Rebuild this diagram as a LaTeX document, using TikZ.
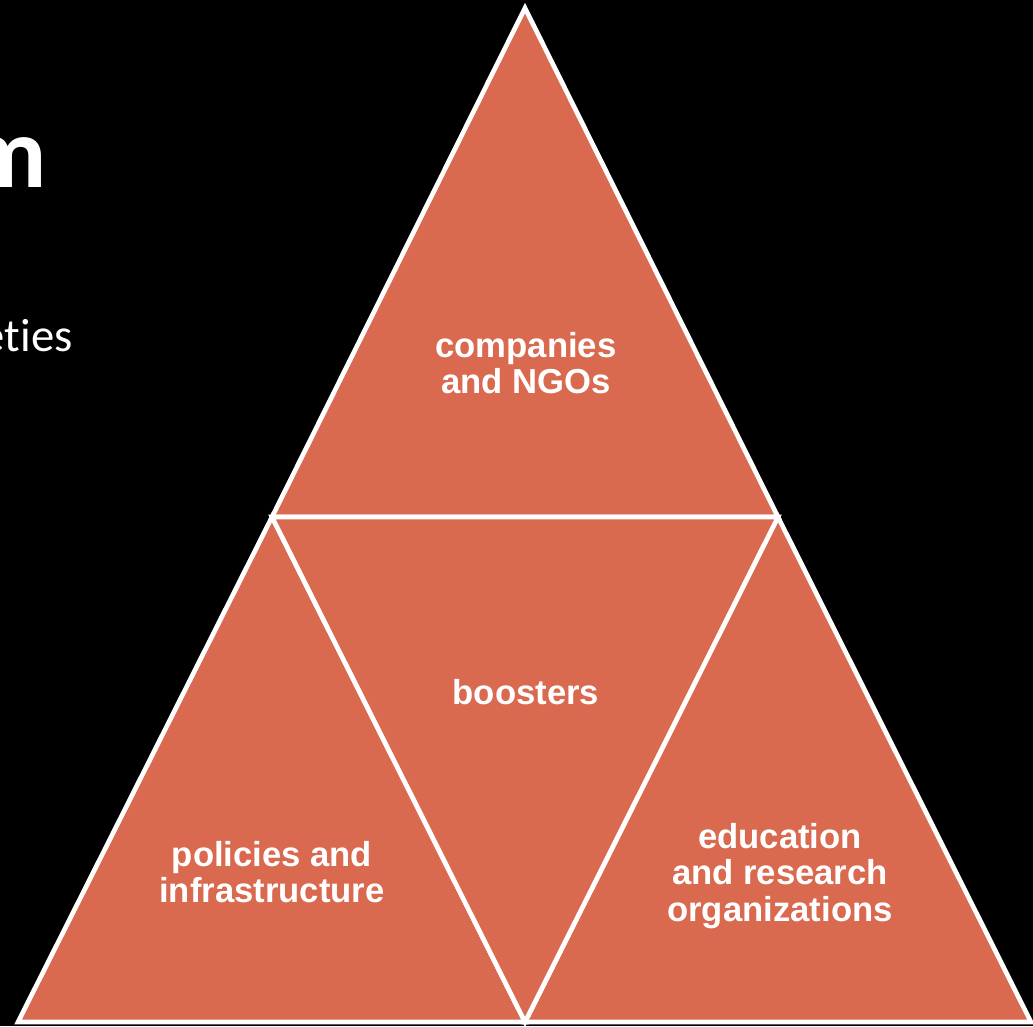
\documentclass[tikz,border=0pt]{standalone}
\usepackage{fontspec}
\setmainfont{Liberation Sans}
\newfontfamily\slidefont[Ligatures=NoCommon]{Carlito}
\usepackage{xcolor}
\usetikzlibrary{positioning}
\definecolor{tri}{HTML}{D9694F}
\tikzset{
    part/.style={
        draw=white,
        fill=tri,
        line width=3.5pt,
        line join=miter
    },
    label text/.style={
        text=white,
        align=center,
        font=\fontsize{26}{27.5}\selectfont\bfseries
    },
    slide text/.style={
        text=white,
        inner sep=0pt
    }
}

\begin{document}
\begin{tikzpicture}[x=0.75pt, y=-0.75pt]
    \fill[black] (0,0) rectangle (1033,1026);
    \useasboundingbox (0,0) rectangle (1033,1026);

    % corners of the pyramid
    \coordinate (A) at (525,8);
    \coordinate (L) at (18,1022);
    \coordinate (R) at (1031,1022);
    \coordinate (ML) at (272,517);
    \coordinate (MR) at (778,517);
    \coordinate (MB) at (525,1022);

    \begin{scope}
        \clip (0,0) rectangle (1033,1026);
        \node[slide text, anchor=base east, font=\slidefont\fontsize{76}{80}\selectfont\bfseries] (title) at (47,187) {m};
        \node[slide text, anchor=base east, font=\slidefont\fontsize{35}{40}\selectfont] (bullet) at (73,351) {eties};
    \end{scope}

    \draw[part] (A) -- (MR) -- (ML) -- cycle;
    \draw[part] (ML) -- (MB) -- (L) -- cycle;
    \draw[part] (MR) -- (R) -- (MB) -- cycle;
    \draw[part] (ML) -- (MR) -- (MB) -- cycle;

    \node[label text] (top) at (526,363) {companies\\and NGOs};
    \node[label text] (mid) at (526,692) {boosters};
    \node[label text] (left) at (272,872) {policies and\\infrastructure};
    \node[label text] (right) at (780,876) {education\\and research\\organizations};
\end{tikzpicture}
\end{document}
